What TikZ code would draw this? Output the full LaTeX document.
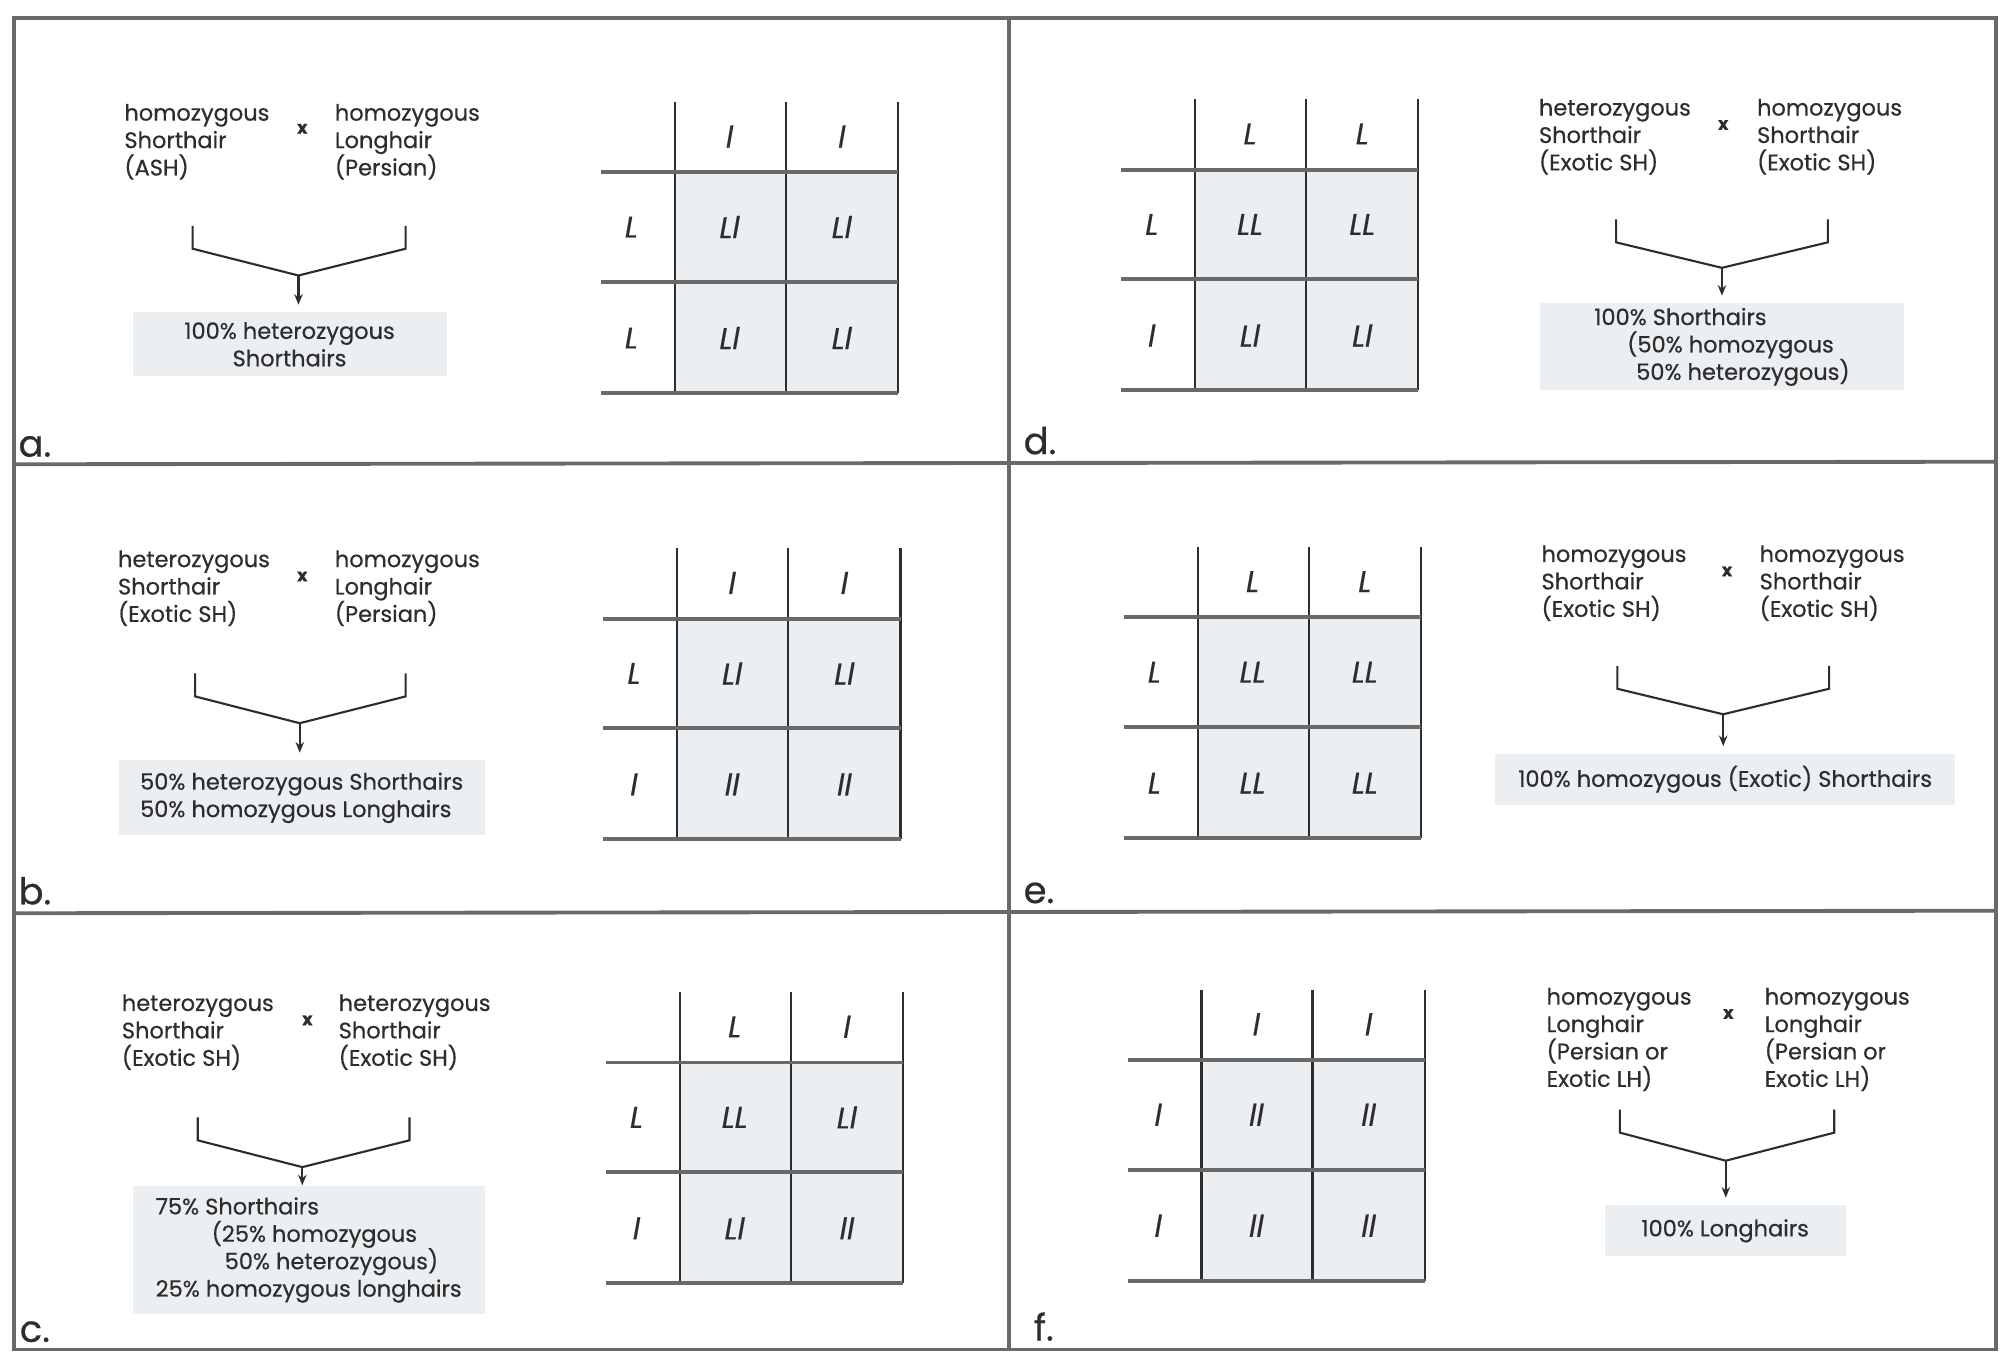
\documentclass[tikz,border=0pt]{standalone}
\usepackage{fontspec}
\setmainfont{Poppins}[FakeBold=0.5]
\usepackage{tikz}
\usetikzlibrary{arrows.meta}
\usepackage{xcolor}
\definecolor{cellfill}{RGB}{236,239,242}
\definecolor{framegray}{RGB}{105,105,105}
\definecolor{inkgray}{RGB}{45,45,45}

\tikzset{
  frame/.style={framegray, line width=1.1pt},
  gridh/.style={framegray, line width=1.1pt},
  gridv/.style={inkgray, line width=0.6pt},
  allele/.style={font=\fontsize{8.5}{10}\selectfont\itshape, text=inkgray, inner sep=0pt},
  parent/.style={font=\fontsize{6.4}{7.8}\selectfont, align=left, anchor=north west, inner sep=0pt, text=inkgray},
  cross/.style={font=\fontsize{5}{6}\selectfont\bfseries, inner sep=0pt, text=inkgray},
  result/.style={font=\fontsize{6.4}{7.8}\selectfont, fill=cellfill, inner sep=0pt, text=inkgray},
  bracket/.style={inkgray, line width=0.6pt},
  offspring/.style={bracket, -{Stealth[length=3pt, width=2.4pt]}, shorten >=2pt},
  panellabel/.style={font=\fontsize{10.5}{12}\selectfont, anchor=base west, inner sep=0pt, text=inkgray}
}

% punnett square: name, x and y of the inner corner, column alleles, row alleles, cells
\newcommand{\punnett}[6]{%
  \begin{scope}[shift={(#2,#3)}]
    \fill[cellfill] (0,0) rectangle (175,173);
    \foreach \gx in {0,87,175} \draw[gridv] (\gx,-55) -- (\gx,173);
    \foreach \gy in {0,86,173} \draw[gridh] (-58,\gy) -- (175,\gy);
    \foreach \lab [count=\i] in {#4}
      \node[allele] (#1-col\i) at ({-45+88*\i},-28) {\lab};
    \foreach \lab [count=\i] in {#5}
      \node[allele] (#1-row\i) at (-34,{-44+87*\i}) {\lab};
    \foreach \lab [count=\i from 0] in {#6}
      \node[allele] (#1-cell\i) at ({43+88*mod(\i,2)},{43+87*int(\i/2)}) {\lab};
  \end{scope}}

\begin{document}
\begin{tikzpicture}[x=0.012755cm, y=-0.012755cm]
  \useasboundingbox (0,0) rectangle (1568,1060);

  % frame and panel dividers
  \draw[frame] (11,14) rectangle (1565,1058);
  \draw[frame] (791,14) -- (791,1058);
  \draw[frame] (11,364) -- (1565,362);
  \draw[frame] (11,716) -- (1565,714);

  % a.
  \node[parent] (a-p1) at (97,81) {homozygous\\Shorthair\\(ASH)};
  \node[cross] (a-x) at (237,101) {x};
  \node[parent] (a-p2) at (262,81) {homozygous\\Longhair\\(Persian)};
  \coordinate (a-l) at (151,177);
  \coordinate (a-r) at (318,177);
  \coordinate (a-j) at (234,216);
  \node[result, align=center, minimum width=3.14cm, minimum height=0.64cm] (a-res) at (227,270)
    {100\% heterozygous\\Shorthairs};
  \draw[bracket] (a-l) -- ++(0,18) -- (a-j);
  \draw[bracket] (a-r) -- ++(0,18) -- (a-j);
  \draw[offspring] (a-j) -- (a-j |- a-res.north);
  \punnett{a}{529}{135}{l,l}{L,L}{Ll,Ll,Ll,Ll}
  \node[panellabel] (lab-a) at (14,358) {a.};

  % d.
  \punnett{d}{937}{133}{L,L}{L,l}{LL,LL,Ll,Ll}
  \node[parent] (d-p1) at (1206,77) {heterozygous\\Shorthair\\(Exotic SH)};
  \node[cross] (d-x) at (1351,98) {x};
  \node[parent] (d-p2) at (1377,77) {homozygous\\Shorthair\\(Exotic SH)};
  \coordinate (d-l) at (1267,172);
  \coordinate (d-r) at (1433,172);
  \coordinate (d-j) at (1350,210);
  \node[result, align=left, minimum width=3.64cm, minimum height=0.87cm] (d-res) at (1350,272)
    {100\% Shorthairs\\\hspace*{0.33cm}(50\% homozygous\\\hspace*{0.42cm}50\% heterozygous)};
  \draw[bracket] (d-l) -- ++(0,18) -- (d-j);
  \draw[bracket] (d-r) -- ++(0,18) -- (d-j);
  \draw[offspring] (d-j) -- (d-j |- d-res.north);
  \node[panellabel] (lab-d) at (802,356) {d.};

  % b.
  \node[parent] (b-p1) at (92,431) {heterozygous\\Shorthair\\(Exotic SH)};
  \node[cross] (b-x) at (237,452) {x};
  \node[parent] (b-p2) at (262,431) {homozygous\\Longhair\\(Persian)};
  \coordinate (b-l) at (153,528);
  \coordinate (b-r) at (318,528);
  \coordinate (b-j) at (235,567);
  \node[result, align=left, minimum width=3.66cm, minimum height=0.75cm] (b-res) at (236.5,625.5)
    {50\% heterozygous Shorthairs\\50\% homozygous Longhairs};
  \draw[bracket] (b-l) -- ++(0,18) -- (b-j);
  \draw[bracket] (b-r) -- ++(0,18) -- (b-j);
  \draw[offspring] (b-j) -- (b-j |- b-res.north);
  \punnett{b}{531}{485}{l,l}{L,l}{Ll,Ll,ll,ll}
  \node[panellabel] (lab-b) at (14,709) {b.};

  % e.
  \punnett{e}{939}{484}{L,L}{L,L}{LL,LL,LL,LL}
  \node[parent] (e-p1) at (1208,427) {homozygous\\Shorthair\\(Exotic SH)};
  \node[cross] (e-x) at (1354,448) {x};
  \node[parent] (e-p2) at (1379,427) {homozygous\\Shorthair\\(Exotic SH)};
  \coordinate (e-l) at (1268,522);
  \coordinate (e-r) at (1434,522);
  \coordinate (e-j) at (1351,560);
  \node[result, align=center, minimum width=4.6cm, minimum height=0.51cm] (e-res) at (1352.5,611)
    {100\% homozygous (Exotic) Shorthairs};
  \draw[bracket] (e-l) -- ++(0,18) -- (e-j);
  \draw[bracket] (e-r) -- ++(0,18) -- (e-j);
  \draw[offspring] (e-j) -- (e-j |- e-res.north);
  \node[panellabel] (lab-e) at (802,708) {e.};

  % c.
  \node[parent] (c-p1) at (95,779) {heterozygous\\Shorthair\\(Exotic SH)};
  \node[cross] (c-x) at (241,800) {x};
  \node[parent] (c-p2) at (265,779) {heterozygous\\Shorthair\\(Exotic SH)};
  \coordinate (c-l) at (155,876);
  \coordinate (c-r) at (321,876);
  \coordinate (c-j) at (237,915);
  \node[result, align=left, minimum width=3.52cm, minimum height=1.28cm] (c-res) at (242,980)
    {75\% Shorthairs\\\hspace*{0.56cm}(25\% homozygous\\\hspace*{0.69cm}50\% heterozygous)\\25\% homozygous longhairs};
  \draw[bracket] (c-l) -- ++(0,18) -- (c-j);
  \draw[bracket] (c-r) -- ++(0,18) -- (c-j);
  \draw[offspring, shorten >=0pt] (c-j) -- (c-j |- c-res.north);
  \punnett{c}{533}{833}{L,l}{L,l}{LL,Ll,Ll,ll}
  \node[panellabel] (lab-c) at (15,1052) {c.};

  % f.
  \punnett{f}{942}{831}{l,l}{l,l}{ll,ll,ll,ll}
  \node[parent] (f-p1) at (1212,774) {homozygous\\Longhair\\(Persian or\\Exotic LH)};
  \node[cross] (f-x) at (1355,795) {x};
  \node[parent] (f-p2) at (1383,774) {homozygous\\Longhair\\(Persian or\\Exotic LH)};
  \coordinate (f-l) at (1270,870);
  \coordinate (f-r) at (1438,870);
  \coordinate (f-j) at (1353,910);
  \node[result, align=center, minimum width=2.41cm, minimum height=0.51cm] (f-res) at (1352.5,965)
    {100\% Longhairs};
  \draw[bracket] (f-l) -- ++(0,18) -- (f-j);
  \draw[bracket] (f-r) -- ++(0,18) -- (f-j);
  \draw[offspring] (f-j) -- (f-j |- f-res.north);
  \node[panellabel] (lab-f) at (810,1051) {f.};
\end{tikzpicture}
\end{document}
